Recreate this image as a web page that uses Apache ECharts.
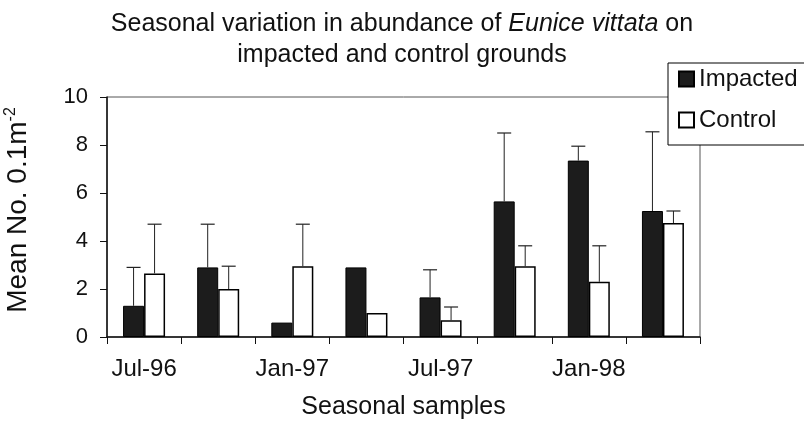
<!DOCTYPE html>
<html>
<head>
<meta charset="utf-8">
<script src="https://cdn.jsdelivr.net/npm/echarts@6/dist/echarts.min.js"></script>
<style>html,body{margin:0;padding:0;background:#fff}#c{width:804px;height:426px}</style>
</head>
<body>
<div id="c"></div>
<script>
var categories = ['Jul-96','Oct-96','Jan-97','Apr-97','Jul-97','Oct-97','Jan-98','Apr-98'];
var impacted = [1.3, 2.9, 0.6, 2.9, 1.65, 5.65, 7.35, 5.25];
var control = [2.65, 2.0, 2.95, 1.0, 0.7, 2.95, 2.3, 4.75];
var impactedUpper = [2.9, 4.7, null, null, 2.8, 8.5, 7.95, 8.55];
var controlUpper = [4.7, 2.95, 4.7, null, 1.25, 3.8, 3.8, 5.25];
var yTicks = [0, 2, 4, 6, 8, 10];

var FONT = 'Liberation Sans, Arial, sans-serif';
var BAR_W = 21;
function errSeries(name, means, uppers, side) {
  var data = [];
  for (var i = 0; i < means.length; i++) {
    if (uppers[i] != null) data.push([i, means[i], uppers[i]]);
  }
  return {
    type: 'custom', name: name + ' err', silent: true, z: 5,
    data: data,
    encode: {x: 0, y: [1, 2]},
    renderItem: function (params, api) {
      var i = api.value(0);
      var lo = api.coord([i, api.value(1)]);
      var hi = api.coord([i, api.value(2)]);
      var x = lo[0] + side * BAR_W / 2;
      var cap = 7;
      return {
        type: 'group',
        children: [
          {type: 'line', shape: {x1: x, y1: lo[1], x2: x, y2: hi[1]}, style: {stroke: '#222', lineWidth: 1}},
          {type: 'line', shape: {x1: x - cap, y1: hi[1], x2: x + cap, y2: hi[1]}, style: {stroke: '#222', lineWidth: 1.2}}
        ]
      };
    }
  };
}

var chart = echarts.init(document.getElementById('c'));
chart.setOption({
  animation: false,
  backgroundColor: '#fff',
  textStyle: {fontFamily: FONT},
  title: {
    text: 'Seasonal variation in abundance of {i|Eunice vittata} on\nimpacted and control grounds',
    left: 'center', top: 4,
    textStyle: {
      fontSize: 25, fontWeight: 'normal', color: '#111', lineHeight: 31,
      fontFamily: FONT,
      rich: {i: {fontStyle: 'italic', fontSize: 25, lineHeight: 31, color: '#111', fontFamily: FONT}}
    }
  },
  legend: {
    orient: 'vertical', left: 668, top: 63,
    data: ['Impacted', 'Control'],
    icon: 'rect', itemWidth: 15, itemHeight: 15, itemGap: 17,
    padding: [4, 10, 13, 10],
    borderColor: '#000', borderWidth: 1, backgroundColor: '#fff', borderRadius: 0,
    textStyle: {fontSize: 24, color: '#111', fontFamily: FONT}
  },
  grid: {left: 107, right: 104, top: 97, bottom: 89, containLabel: false, outerBoundsMode: 'none',
         show: true, borderColor: '#555', borderWidth: 1},
  xAxis: {
    type: 'category', data: categories,
    name: 'Seasonal samples', nameLocation: 'middle', nameGap: 58,
    nameTextStyle: {fontSize: 25, color: '#111'},
    axisLine: {lineStyle: {color: '#111', width: 1.5}},
    axisTick: {show: true, interval: 0, length: 7, lineStyle: {color: '#111'}},
    axisLabel: {interval: 1, fontSize: 24, color: '#111', margin: 20}
  },
  yAxis: {
    type: 'value', min: yTicks[0], max: yTicks[yTicks.length - 1], interval: 2,
    name: 'Mean No. 0.1m{s|-2}', nameLocation: 'middle', nameGap: 74,
    nameTextStyle: {fontSize: 28, color: '#111', padding: [0, 0, 0, 14],
      rich: {s: {fontSize: 16, color: '#111', verticalAlign: 'top', padding: [0, 0, 14, 0]}}},
    splitLine: {show: false},
    axisLine: {show: true, lineStyle: {color: '#111', width: 1.5}},
    axisTick: {show: true, length: 7, lineStyle: {color: '#111'}},
    axisLabel: {fontSize: 22, color: '#111', margin: 19}
  },
  series: [
    {name: 'Impacted', type: 'bar', data: impacted, barWidth: BAR_W, barGap: '0%',
     itemStyle: {color: '#1c1c1c', borderColor: '#000', borderWidth: 1}},
    {name: 'Control', type: 'bar', data: control, barWidth: BAR_W,
     itemStyle: {color: '#fff', borderColor: '#000', borderWidth: 1.5}},
    errSeries('Impacted', impacted, impactedUpper, -1),
    errSeries('Control', control, controlUpper, 1)
  ]
});
</script>
</body>
</html>
